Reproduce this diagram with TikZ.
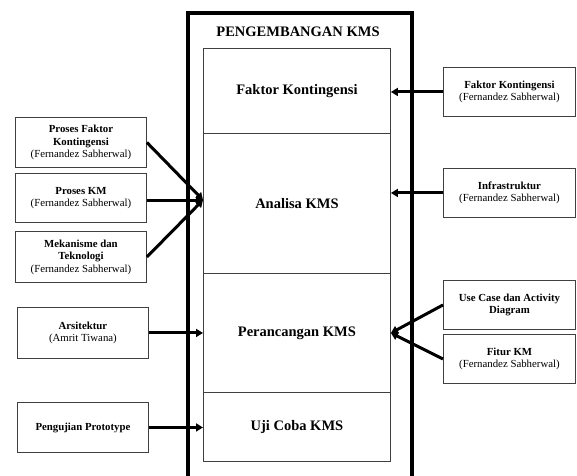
\documentclass[tikz,border=0pt]{standalone}
\usepackage{fontspec}
\setmainfont{Liberation Serif}
\usetikzlibrary{arrows.meta}
\begin{document}
\begin{tikzpicture}[x=1pt,y=-1pt,
  sect/.style={draw=black!75,line width=0.9pt,minimum width=187pt,anchor=north west,inner sep=0pt,font=\fontsize{14.5}{17}\selectfont\bfseries},
  sbox/.style={draw=black!75,line width=0.9pt,minimum width=131pt,anchor=north west,inner sep=0pt,align=center,font=\fontsize{10.8}{12.5}\selectfont},
  conn/.style={line width=3pt,-{Triangle[length=7pt,width=8pt]}}
]
\useasboundingbox (0,0) rectangle (577,475);
% outer frame
\node[draw,line width=3.8pt,minimum width=224pt,minimum height=470pt,anchor=north west,inner sep=0pt] (outer) at (186,11) {};
\node[font=\fontsize{14.5}{17}\selectfont\bfseries] (title) at (298,32) {PENGEMBANGAN KMS};
% sections
\node[sect,minimum height=85pt] (fk) at (203,48) {Faktor Kontingensi};
\node[sect,minimum height=140pt] (an) at (203,133) {Analisa KMS};
\node[sect,minimum height=119pt] (pr) at (203,273) {Perancangan KMS};
\node[sect,minimum height=69pt] (uj) at (203,392) {Uji Coba KMS};
% left boxes
\node[sbox,minimum height=50pt] (l1) at (15,117) {\textbf{Proses Faktor}\\\textbf{Kontingensi}\\(Fernandez Sabherwal)};
\node[sbox,minimum height=49pt] (l2) at (15,173) {\textbf{Proses KM}\\(Fernandez Sabherwal)};
\node[sbox,minimum height=51pt] (l3) at (15,231) {\textbf{Mekanisme dan}\\\textbf{Teknologi}\\(Fernandez Sabherwal)};
\node[sbox,minimum height=51pt] (l4) at (17,307) {\textbf{Arsitektur}\\(Amrit Tiwana)};
\node[sbox,minimum height=50pt] (l5) at (17,402) {\textbf{Pengujian Prototype}};
% right boxes
\node[sbox,minimum width=132pt,minimum height=49pt] (r1) at (443,67) {\textbf{Faktor Kontingensi}\\(Fernandez Sabherwal)};
\node[sbox,minimum width=132pt,minimum height=49pt] (r2) at (443,168) {\textbf{Infrastruktur}\\(Fernandez Sabherwal)};
\node[sbox,minimum width=132pt,minimum height=49pt] (r3) at (443,280) {\textbf{Use Case dan Activity}\\\textbf{Diagram}};
\node[sbox,minimum width=132pt,minimum height=49pt] (r4) at (443,334) {\textbf{Fitur KM}\\(Fernandez Sabherwal)};
% target coordinates
\coordinate (tl) at (an.west |- 0,200);
\coordinate (tr) at (pr.east |- 0,333);
% connectors
\draw[conn] (l1.east) -- (tl);
\draw[conn] (l2.east |- tl) -- (tl);
\draw[conn] (l3.east) -- (tl);
\draw[conn] (l4.east) -- (pr.west |- l4.east);
\draw[conn] (l5.east) -- (uj.west |- l5.east);
\draw[conn] (r1.west) -- (fk.east |- r1.west);
\draw[conn] (r2.west) -- (an.east |- r2.west);
\draw[conn] (r3.west) -- (tr);
\draw[conn] (r4.west) -- (tr);
\end{tikzpicture}
\end{document}
